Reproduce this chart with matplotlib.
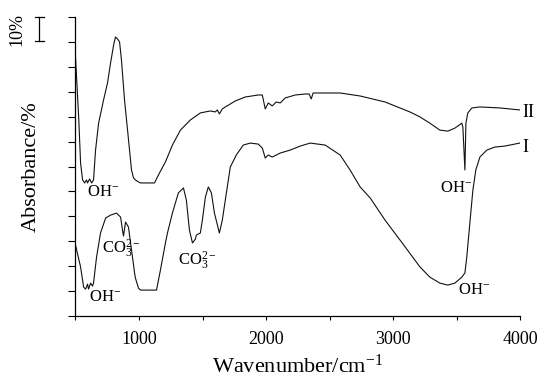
import numpy as np
import matplotlib
matplotlib.use('Agg')
import matplotlib.pyplot as plt
import matplotlib.transforms as mtransforms

plt.rcParams['font.family'] = ['Liberation Serif', 'DejaVu Serif']
plt.rcParams['mathtext.fontset'] = 'custom'
plt.rcParams['mathtext.rm'] = 'Liberation Serif'
plt.rcParams['mathtext.it'] = 'Liberation Serif:italic'
plt.rcParams['mathtext.bf'] = 'Liberation Serif:bold'

# curva II (superior)
wn_II = [500, 526, 540, 556, 572, 587, 595, 611, 627, 642, 658, 682, 721, 752, 776, 800, 815, 831,
         847, 862, 886, 910, 941, 957, 972, 996, 1012, 1122, 1153, 1208, 1263, 1326, 1405, 1483,
         1562, 1601, 1617, 1633, 1656, 1680, 1758, 1837, 1939, 1971, 1994, 2018, 2049, 2081, 2112,
         2151, 2230, 2309, 2340, 2356, 2371, 2466, 2584, 2741, 2937, 3133, 3212, 3290, 3369, 3432,
         3487, 3542, 3550, 3566, 3574, 3589, 3621, 3684, 3841, 3998]
abs_II = [104.0, 78.7, 61.4, 54.6, 53.4, 54.6, 53.4, 55.0, 53.4, 54.6, 66.6, 77.4, 86.7, 93.5, 101.5,
          108.7, 112.0, 111.2, 110.0, 102.7, 86.7, 74.6, 58.6, 55.4, 54.6, 53.8, 53.4, 53.4, 56.6,
          61.8, 68.6, 74.6, 78.7, 81.5, 82.3, 81.9, 82.7, 81.1, 83.1, 83.9, 86.3, 87.9, 88.7, 88.7,
          83.1, 85.5, 84.3, 85.9, 85.5, 87.5, 88.7, 89.1, 89.1, 87.1, 89.5, 89.5, 89.5, 88.3, 85.9,
          81.9, 79.9, 77.4, 74.6, 74.2, 75.4, 77.4, 75.8, 58.6, 77.4, 81.5, 83.5, 83.9, 83.5, 82.7]

# curva I (inferior)
wn_I = [500, 540, 564, 580, 595, 603, 619, 634, 642, 666, 697, 737, 776, 823, 855, 870, 878, 894,
        917, 941, 957, 965, 972, 996, 1012, 1138, 1169, 1208, 1224, 1263, 1310, 1350, 1373, 1397,
        1421, 1444, 1452, 1483, 1499, 1523, 1546, 1570, 1594, 1633, 1656, 1688, 1719, 1766, 1821,
        1876, 1939, 1971, 1994, 2018, 2049, 2112, 2191, 2269, 2348, 2466, 2584, 2662, 2741, 2820,
        2937, 3055, 3212, 3290, 3369, 3432, 3487, 3542, 3566, 3581, 3605, 3629, 3652, 3684, 3739,
        3802, 3880, 3998]
abs_I = [28.5, 19.7, 11.6, 10.8, 12.8, 10.8, 13.2, 12.0, 13.2, 23.7, 33.3, 39.3, 40.5, 41.3, 39.7,
         34.5, 32.1, 37.7, 35.7, 26.5, 20.5, 17.3, 15.2, 11.2, 10.4, 10.4, 18.5, 29.3, 33.3, 41.3,
         49.4, 51.4, 46.5, 34.5, 29.3, 30.9, 32.5, 33.3, 38.5, 47.8, 51.8, 49.4, 41.3, 33.3, 38.5,
         49.4, 59.8, 64.6, 68.6, 69.4, 69.0, 67.4, 63.4, 64.6, 63.8, 65.4, 66.6, 68.2, 69.4, 68.6,
         64.6, 58.6, 51.8, 47.4, 38.5, 30.5, 19.7, 15.6, 13.2, 12.4, 13.2, 15.6, 17.3, 23.7, 37.3,
         50.6, 58.6, 63.8, 66.6, 67.8, 68.2, 69.4]

rotulos = ['OH$^{-}$', 'CO$_3^{2-}$', 'OH$^{-}$', 'CO$_3^{2-}$', 'OH$^{-}$', 'OH$^{-}$']
rot_x = [721, 863, 729, 1460, 3496, 3637]
rot_y = [49.8, 26.9, 7.6, 22.1, 51.4, 10.4]

fig = plt.figure(figsize=(5.4, 3.77), dpi=100)
ax = fig.add_axes([0.1398, 0.1618, 0.8232, 0.7931])

ax.plot(wn_II, abs_II, color='#111111', lw=0.8)
ax.plot(wn_I, abs_I, color='#111111', lw=0.8)

for t, x, y in zip(rotulos, rot_x, rot_y):
    ax.text(x, y, t, fontsize=12, ha='center', va='center')

ax.text(4020, 81.8, 'II', fontsize=13, ha='left', va='center')
ax.text(4020, 67.6, 'I', fontsize=13, ha='left', va='center')

ax.set_xlim(500, 4000)
ax.set_ylim(0, 120)
ax.set_xticks([1000, 2000, 3000, 4000])
ax.set_xticks([500, 1500, 2500, 3500], minor=True)
ax.set_yticks(np.arange(0, 121, 10))
ax.set_yticklabels([])
ax.tick_params(axis='x', which='both', direction='out', length=3, width=0.8, labelsize=13, pad=8)
ax.tick_params(axis='y', direction='out', length=5, width=0.8)
ax.spines['top'].set_visible(False)
ax.spines['right'].set_visible(False)
ax.spines['left'].set_linewidth(0.9)
ax.spines['bottom'].set_linewidth(0.9)

ax.set_xlabel('Wavenumber/cm$^{-1}$', fontsize=16)
ax.xaxis.set_label_coords(0.5, -0.128)
ax.set_ylabel('Absorbance/%', fontsize=16)
ax.yaxis.set_label_coords(-0.078, 0.5)

# barra de escala 10%
tr = mtransforms.blended_transform_factory(ax.transAxes, ax.transData)
ax.plot([-0.081, -0.081], [110.4, 120], color='black', lw=0.9, transform=tr, clip_on=False)
ax.plot([-0.091, -0.071], [120, 120], color='black', lw=0.9, transform=tr, clip_on=False)
ax.plot([-0.091, -0.071], [110.4, 110.4], color='black', lw=0.9, transform=tr, clip_on=False)
fig.text(17 / 540, 1 - 29 / 377, '10%', fontsize=13, rotation=90, ha='center', va='center')

fig.savefig('out.png', dpi=100)
